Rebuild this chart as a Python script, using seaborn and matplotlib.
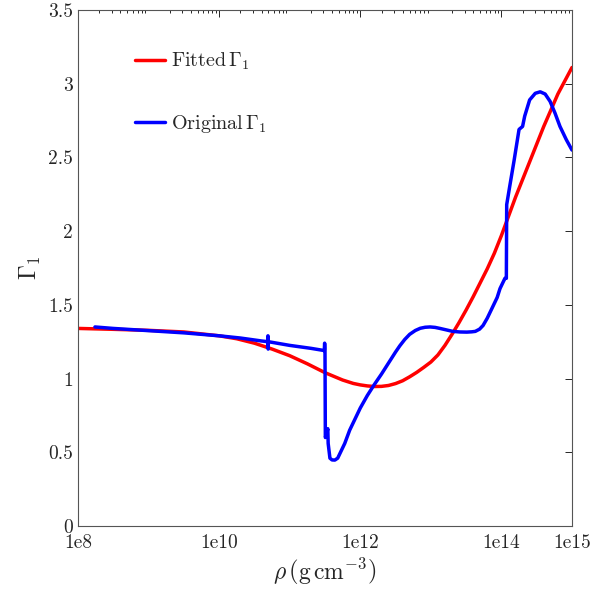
import numpy as np
import pandas as pd
import matplotlib
matplotlib.use("Agg")
import matplotlib.pyplot as plt
import seaborn as sns

# ---- data (log10 density, Gamma_1) ----
fit_logrho = [8.0, 8.5, 9.0, 9.5, 10.0, 10.25, 10.5, 10.75, 11.0, 11.25, 11.5,
              11.75, 11.9, 12.0, 12.1, 12.2, 12.3, 12.4, 12.5, 12.6, 12.7, 12.8,
              12.9, 13.0, 13.1, 13.2, 13.3, 13.4, 13.5, 13.6, 13.7, 13.8, 13.9,
              14.0, 14.1, 14.2, 14.3, 14.4, 14.5, 14.6, 14.7, 14.8, 14.9, 15.0]
fit_gamma = [1.340, 1.334, 1.327, 1.316, 1.290, 1.270, 1.240, 1.200, 1.155, 1.100, 1.040,
             0.990, 0.967, 0.957, 0.950, 0.946, 0.947, 0.953, 0.966, 0.985, 1.012, 1.042,
             1.076, 1.112, 1.160, 1.225, 1.300, 1.380, 1.465, 1.555, 1.650, 1.745, 1.850,
             1.970, 2.100, 2.230, 2.350, 2.470, 2.590, 2.710, 2.820, 2.930, 3.020, 3.110]

orig_logrho = [8.24, 8.5, 9.0, 9.5, 10.0, 10.3, 10.6, 10.69, 10.692, 10.695, 10.698,
               11.0, 11.3, 11.49, 11.495, 11.50, 11.505, 11.52, 11.54, 11.545, 11.57,
               11.60, 11.64, 11.68, 11.72, 11.78, 11.85, 11.93, 12.0, 12.1, 12.2, 12.3,
               12.4, 12.5, 12.56, 12.63, 12.70, 12.78, 12.85, 12.92, 12.99, 13.06, 13.13,
               13.22, 13.31, 13.41, 13.51, 13.58, 13.63, 13.69, 13.74, 13.80, 13.88,
               13.94, 13.98, 14.02, 14.05, 14.07, 14.075, 14.12, 14.18, 14.25, 14.30,
               14.33, 14.40, 14.48, 14.55, 14.62, 14.69, 14.76, 14.83, 14.92, 15.0]
orig_gamma = [1.35, 1.34, 1.325, 1.31, 1.29, 1.275, 1.255, 1.25, 1.29, 1.20, 1.25,
              1.225, 1.205, 1.19, 1.24, 1.20, 0.60, 0.62, 0.66, 0.56, 0.46,
              0.448, 0.447, 0.46, 0.50, 0.56, 0.65, 0.73, 0.80, 0.885, 0.96, 1.03,
              1.105, 1.18, 1.222, 1.265, 1.300, 1.326, 1.341, 1.348, 1.35, 1.347, 1.34,
              1.33, 1.32, 1.316, 1.315, 1.317, 1.32, 1.335, 1.36, 1.41, 1.49,
              1.55, 1.61, 1.65, 1.68, 1.68, 2.18, 2.31, 2.48, 2.69, 2.71,
              2.78, 2.89, 2.935, 2.945, 2.93, 2.88, 2.80, 2.71, 2.62, 2.55]

xtick_vals = [1e8, 1e10, 1e12, 1e14, 1e15]
xtick_labels = ["1e8", "1e10", "1e12", "1e14", "1e15"]
ytick_vals = [0, 0.5, 1, 1.5, 2, 2.5, 3, 3.5]
ytick_labels = ["0", "0.5", "1", "1.5", "2", "2.5", "3", "3.5"]

fit_df = pd.DataFrame({"rho": 10.0 ** np.array(fit_logrho), "gamma": fit_gamma})
orig_df = pd.DataFrame({"rho": 10.0 ** np.array(orig_logrho), "gamma": orig_gamma})

sns.set_style("white")
plt.rcParams.update({
    "font.family": "serif",
    "font.serif": ["cmr10", "DejaVu Serif"],
    "mathtext.fontset": "cm",
    "axes.unicode_minus": False,
    "axes.formatter.use_mathtext": True,
})

fig = plt.figure(figsize=(6.07, 5.95), dpi=100)
ax = fig.add_axes([0.1285, 0.1160, 0.9423 - 0.1285, 0.9832 - 0.1160])

sns.lineplot(data=fit_df, x="rho", y="gamma", ax=ax, color="#ff0000", lw=2.5,
             sort=False, estimator=None, label=r"Fitted$\,\Gamma_1$")
sns.lineplot(data=orig_df, x="rho", y="gamma", ax=ax, color="#0000ff", lw=2.5,
             sort=False, estimator=None, label=r"Original$\,\Gamma_1$")

ax.set_xscale("log")
ax.set_xlim(1e8, 1e15)
ax.set_ylim(0, 3.5)
ax.set_xticks(xtick_vals)
ax.set_xticklabels(xtick_labels)
ax.set_yticks(ytick_vals)
ax.set_yticklabels(ytick_labels)

ax.tick_params(which="both", direction="in", top=True, right=True,
               colors="#262626", labelsize=14, width=0.7)
ax.tick_params(axis="x", pad=6)
ax.tick_params(which="major", length=5)
ax.tick_params(which="minor", length=2.5)
ax.minorticks_on()
ax.yaxis.set_minor_locator(matplotlib.ticker.NullLocator())
for s in ax.spines.values():
    s.set_color("#555555")
    s.set_linewidth(0.8)

ax.set_xlabel(r"$\rho\,\left(\mathrm{g\,cm^{-3}}\right)$", fontsize=17, labelpad=3)
ax.set_ylabel(r"$\Gamma_1$", fontsize=17, labelpad=4)

leg = ax.legend(loc="upper left", bbox_to_anchor=(0.079, 0.956), frameon=False,
                fontsize=14.5, handlelength=1.5, handletextpad=0.3,
                labelspacing=2.03)

fig.savefig("out.png", dpi=100)
